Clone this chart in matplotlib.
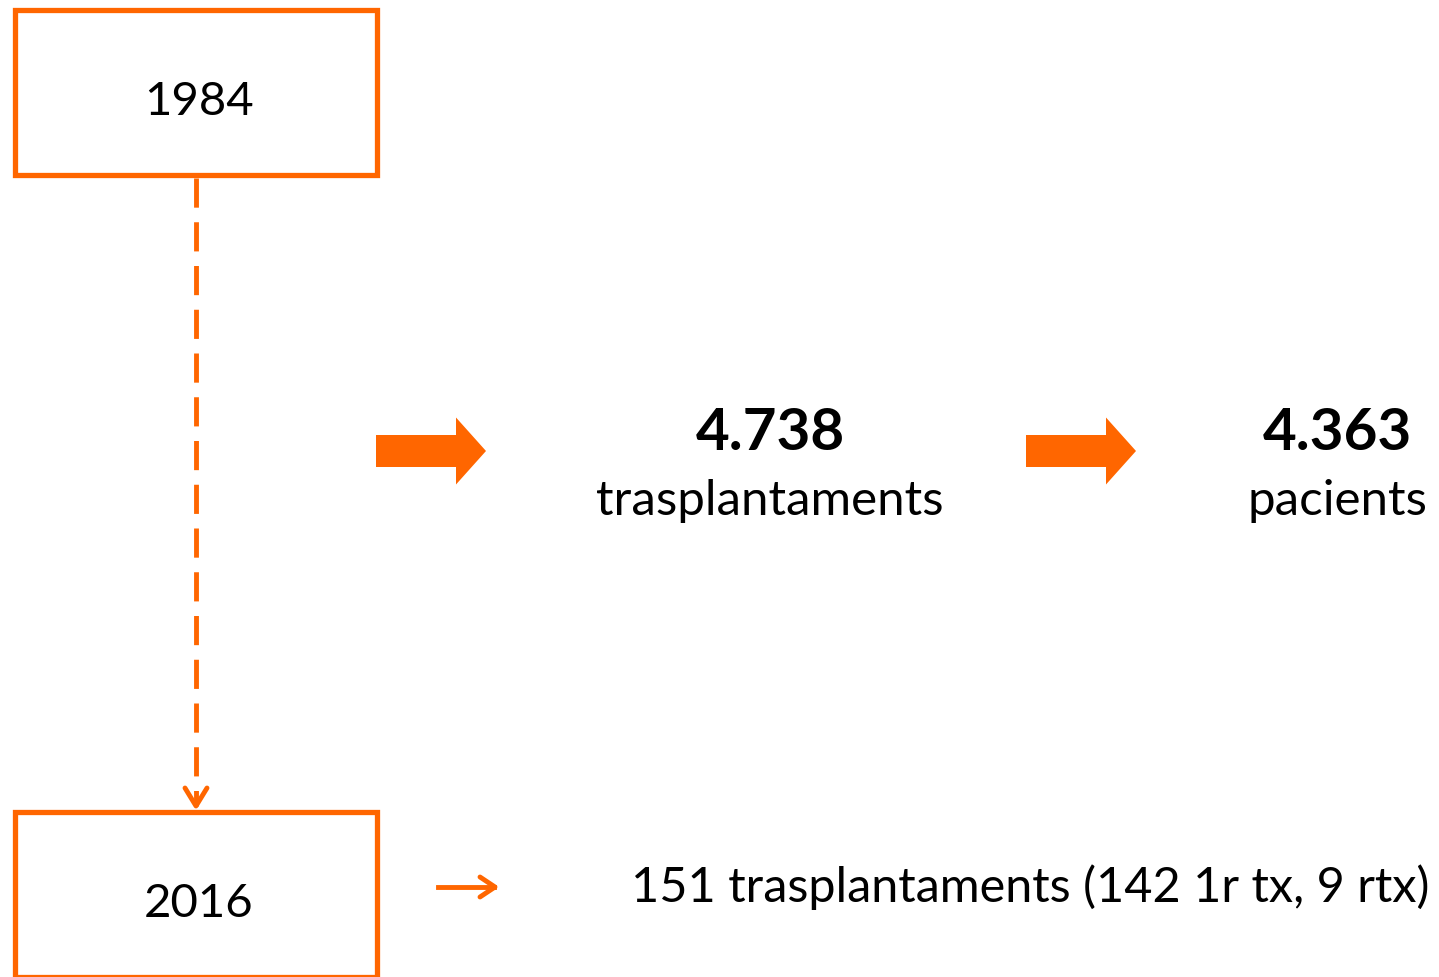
import matplotlib.pyplot as plt
from matplotlib.patches import Rectangle, FancyArrow

ORANGE = '#ff6600'

years = ['1984', '2016']
totals = ['4.738', '4.363']
total_labels = ['trasplantaments', 'pacients']
note_2016 = '151 trasplantaments (142 1r tx, 9 rtx)'

plt.rcParams['font.family'] = ['Lato', 'DejaVu Sans']

fig = plt.figure(figsize=(14.39, 9.77), dpi=100)
ax = fig.add_axes([0, 0, 1, 1])
ax.set_xlim(0, 1439)
ax.set_ylim(977, 0)
ax.axis('off')

# year boxes
box_tops = [10, 812]
for year, top in zip(years, box_tops):
    ax.add_patch(Rectangle((15, top), 362, 165, fill=False, edgecolor=ORANGE, lw=3.8))
    ax.text(199, top + 92, year, ha='center', va='center', fontsize=34)

# dashed connector with open arrow head
ax.plot([196, 196], [178, 806], color=ORANGE, lw=3.5, dashes=(6, 3))
ax.plot([185, 196, 207], [788, 806, 788], color=ORANGE, lw=3.5, solid_capstyle='round')

# block arrows
for x0 in [376, 1026]:
    ax.add_patch(FancyArrow(x0, 451, 80, 0, width=32, head_width=67, head_length=30,
                            length_includes_head=False, color=ORANGE, lw=0))

# totals
centers = [770, 1337]
for cx, val, lab in zip(centers, totals, total_labels):
    ax.text(cx, 433, val, ha='center', va='center', fontsize=42, fontweight='bold')
    ax.text(cx, 501, lab, ha='center', va='center', fontsize=35.5)

# 2016 note
ax.plot([438, 494], [887, 887], color=ORANGE, lw=3.5)
ax.plot([480, 495, 480], [877, 887, 897], color=ORANGE, lw=3.5, solid_capstyle='round')
ax.text(1030, 887, note_2016, ha='center', va='center', fontsize=35)

fig.savefig('out.png', dpi=100, facecolor='white')
